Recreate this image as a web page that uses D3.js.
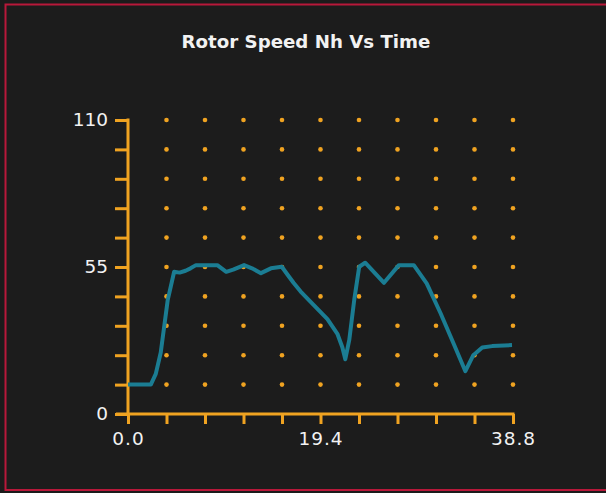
<!DOCTYPE html>
<html>
<head>
<meta charset="utf-8">
<script src="https://cdn.jsdelivr.net/npm/d3@7"></script>
<style>
  html, body { margin: 0; padding: 0; background: #1b1b1b; }
  svg { display: block; }
</style>
</head>
<body>
<svg id="chart" width="606" height="493"></svg>
<script>
// ---- data ----
const title = "Rotor Speed Nh Vs Time";
const timeValues = [0, 2.3, 2.8, 3.3, 4.0, 4.65, 5.2, 5.8, 6.3, 6.85, 9.0, 9.9, 10.6, 11.7, 12.5, 13.4, 14.4, 15.5, 16.1, 16.7, 17.4, 18.7, 20.1, 21.1, 21.6, 21.9, 22.3, 22.8, 23.3, 23.9, 25.8, 27.3, 28.8, 30.1, 31.5, 32.8, 34.0, 34.8, 35.7, 36.7, 38.7];
const speedValues = [11, 11, 15, 23, 42.6, 53.2, 52.9, 53.6, 54.5, 55.7, 55.7, 53.2, 54.0, 55.7, 54.5, 52.7, 54.5, 55.1, 52.0, 49.0, 45.8, 40.8, 35.5, 30.0, 25.0, 20.5, 27.7, 42.7, 55.1, 56.6, 49.1, 55.7, 55.7, 48.9, 37.7, 26.5, 16.0, 22.0, 24.9, 25.4, 25.8];
const yTickValues = [0, 11, 22, 33, 44, 55, 66, 77, 88, 99, 110];
const yTickLabels = ["0", "", "", "", "", "55", "", "", "", "", "110"];
const xTickValues = [0, 3.88, 7.76, 11.64, 15.52, 19.4, 23.28, 27.16, 31.04, 34.92, 38.8];
const xTickLabels = ["0.0", "", "", "", "", "19.4", "", "", "", "", "38.8"];

// ---- styles ----
const axisColor = "#f0a321";
const lineColor = "#1b7d93";
const textColor = "#f2f2f2";
const fontFamily = "DejaVu Sans, Verdana, sans-serif";

const svg = d3.select("#chart");

// frame
svg.append("rect")
  .attr("x", 5.5).attr("y", 4.5)
  .attr("width", 620).attr("height", 485.5)
  .attr("fill", "#1c1c1c")
  .attr("stroke", "#b8183a")
  .attr("stroke-width", 2);

const x = d3.scaleLinear().domain([0, 38.8]).range([128, 513]);
const y = d3.scaleLinear().domain([0, 110]).range([414, 120]);

// title
svg.append("text")
  .attr("x", 306).attr("y", 48.3)
  .attr("text-anchor", "middle")
  .attr("fill", textColor)
  .attr("font-family", fontFamily)
  .attr("font-weight", "bold")
  .attr("font-size", 18.2)
  .text(title);

// dot grid
const gridPts = [];
xTickValues.slice(1).forEach(tx => yTickValues.slice(1).forEach(ty => gridPts.push([tx, ty])));
svg.append("g").selectAll("circle")
  .data(gridPts).join("circle")
  .attr("cx", d => x(d[0])).attr("cy", d => y(d[1]))
  .attr("r", 2.3)
  .attr("fill", axisColor);

// y axis
const yAxis = d3.axisLeft(y)
  .tickValues(yTickValues)
  .tickFormat((d, i) => yTickLabels[i])
  .tickSize(13).tickSizeOuter(0).tickPadding(7);
const gy = svg.append("g").attr("transform", "translate(128,0)").call(yAxis);
gy.select(".domain").attr("stroke", axisColor).attr("stroke-width", 3)
  .attr("d", `M0,${y(110) - 1.5}V${y(0) + 1.5}`);
gy.selectAll(".tick line").attr("stroke", axisColor).attr("stroke-width", 3);
gy.selectAll(".tick text")
  .attr("fill", textColor)
  .attr("font-family", fontFamily)
  .attr("font-size", 18.5);

// x axis
const xAxis = d3.axisBottom(x)
  .tickValues(xTickValues)
  .tickFormat((d, i) => xTickLabels[i])
  .tickSize(10).tickSizeOuter(0).tickPadding(8);
const gx = svg.append("g").attr("transform", "translate(0,414)").call(xAxis);
gx.select(".domain").attr("stroke", axisColor).attr("stroke-width", 3)
  .attr("d", `M${x(0) - 12},0H${x(38.8) + 1.5}`);
gx.selectAll(".tick line").attr("stroke", axisColor).attr("stroke-width", 3);
gx.selectAll(".tick text")
  .attr("fill", textColor)
  .attr("font-family", fontFamily)
  .attr("font-size", 18.5)
  .attr("letter-spacing", 1);

// line
const data = timeValues.map((t, i) => ({ t, v: speedValues[i] }));
svg.append("path")
  .datum(data)
  .attr("fill", "none")
  .attr("stroke", lineColor)
  .attr("stroke-width", 4)
  .attr("stroke-linejoin", "round")
  .attr("d", d3.line().x(d => x(d.t)).y(d => y(d.v)));
</script>
</body>
</html>
